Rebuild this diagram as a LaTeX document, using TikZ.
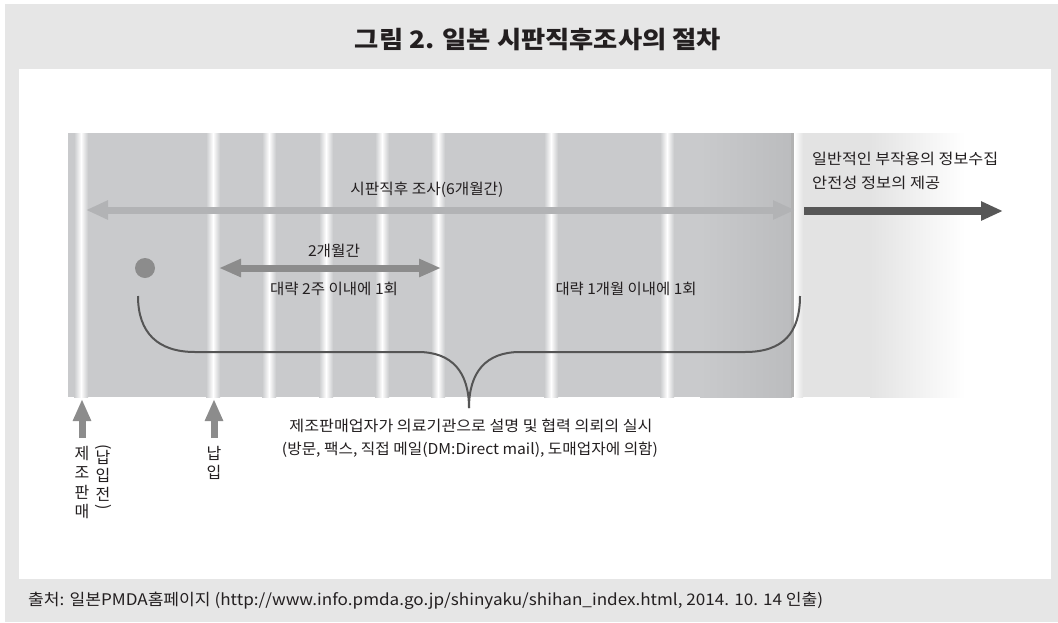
\documentclass[tikz,border=0pt]{standalone}
\usepackage{fontspec}
\setmainfont{Noto Sans CJK KR}
\usepackage{graphicx}
\usetikzlibrary{arrows.meta}
\definecolor{framec}{HTML}{E6E6E6}
\definecolor{bandc}{HTML}{C9CACC}
\definecolor{banddark}{HTML}{BBBCBE}
\definecolor{bandright}{HTML}{E3E3E3}
\definecolor{lightarr}{HTML}{B2B3B5}
\definecolor{midarr}{HTML}{8C8C8C}
\definecolor{darkarr}{HTML}{575757}
\definecolor{bracec}{HTML}{555555}
\definecolor{txtc}{HTML}{231F20}
\newcommand\fitw[2]{\resizebox{#1pt}{\height}{#2}}
\newcommand\vparen[1]{\rotatebox[origin=c]{-90}{#1}}
\begin{document}
\begin{tikzpicture}[x=1pt,y=-1pt,
  lbl/.style={inner sep=0pt, text=txtc, font=\fontsize{15}{18}\selectfont},
  vlbl/.style={inner sep=0pt, text=txtc, align=center, font=\fontsize{16}{19.5}\selectfont},
  lightline/.style={draw=lightarr, line width=7pt, {Triangle[length=22pt,width=18pt]}-{Triangle[length=22pt,width=18pt]}},
  midline/.style={draw=midarr, line width=7pt, {Triangle[length=22pt,width=17pt]}-{Triangle[length=22pt,width=17pt]}},
  darkline/.style={draw=darkarr, line width=8pt, -{Triangle[length=22pt,width=18pt]}},
  upline/.style={draw=midarr, line width=7pt, -{Triangle[length=22pt,width=17pt]}},
  bracestyle/.style={draw=bracec, line width=2pt}]
\useasboundingbox (0,0) rectangle (1058,622);
% frame
\fill[framec] (5,4) rectangle (1058,622);
\fill[white] (19,69) rectangle (1051,579);
% timeline band
\fill[bandc] (68,133) rectangle (700,397);
\shade[left color=bandc, right color=banddark] (700,133) rectangle (792,397);
\fill[black!30] (791,133) rectangle (794,397);
\shade[left color=white, right color=bandright] (794,133) rectangle (803,397);
\fill[bandright] (803,133) rectangle (870,397);
\shade[left color=bandright, right color=white] (870,133) rectangle (965,397);
\foreach \sx in {81,213,269,326,382,438,551,667} {
  \shade[left color=bandc, right color=bandc, middle color=white] (\sx-7,133) rectangle (\sx+7,397);
}
% title
\node[inner sep=0pt, text=txtc, font=\fontsize{24}{28}\selectfont\bfseries] (title) at (538,40) {\fitw{366}{그림 2. 일본 시판직후조사의 절차}};
% long arrow
\coordinate (la) at (86,210);
\coordinate (lb) at (795,210);
\draw[lightline] (la) -- (lb);
\node[lbl] (t6) at (427,190) {\fitw{153}{시판직후 조사(6개월간)}};
% dark arrow
\coordinate (da) at (804,211);
\coordinate (db) at (1003,211);
\draw[darkline] (da) -- (db);
\node[lbl, anchor=west] (g1) at (812,159) {\fitw{186}{일반적인 부작용의 정보수집}};
\node[lbl, anchor=west] (g2) at (812,183) {\fitw{128}{안전성 정보의 제공}};
% dot
\node[circle, fill=midarr, minimum size=20pt, inner sep=0pt] (dot) at (145,268) {};
% two month arrow
\coordinate (ma) at (219,268);
\coordinate (mb) at (441,268);
\draw[midline] (ma) -- (mb);
\node[lbl] (m1) at (334,251) {\fitw{52}{2개월간}};
\node[lbl] (m2) at (334,289) {\fitw{128}{대략 2주 이내에 1회}};
\node[lbl] (m3) at (626,289) {\fitw{141}{대략 1개월 이내에 1회}};
% brace
\coordinate (bl) at (138,296);
\coordinate (bt) at (469,408);
\coordinate (br) at (800,296);
\draw[bracestyle] (bl) .. controls (138,333) and (158,352) .. (195,352) -- (418,352) .. controls (452,352) and (469,372) .. (bt);
\draw[bracestyle] (bt) .. controls (469,372) and (486,352) .. (520,352) -- (745,352) .. controls (783,352) and (800,333) .. (br);
% bottom text
\node[lbl] (c1) at (471,426) {\fitw{363}{제조판매업자가 의료기관으로 설명 및 협력 의뢰의 실시}};
\node[lbl] (c2) at (470,450) {\fitw{376}{(방문, 팩스, 직접 메일(DM:Direct mail), 도매업자에 의함)}};
% up arrows
\coordinate (ua1) at (82,438);
\coordinate (ub1) at (82,399);
\coordinate (ua2) at (214,438);
\coordinate (ub2) at (214,399);
\draw[upline] (ua1) -- (ub1);
\draw[upline] (ua2) -- (ub2);
% vertical labels
\node[vlbl, anchor=north] (v1) at (82,446) {제\\조\\판\\매};
\node[vlbl, anchor=north] (v2) at (103,444) {\vparen{(}\\[-8pt]납\\[-1pt]입\\[-1pt]전\\[-8pt]\vparen{)}};
\node[vlbl, anchor=north] (v3) at (214,446) {납\\입};
% footer
\node[inner sep=0pt, text=txtc, font=\fontsize{16}{19}\selectfont, anchor=west] (src) at (28,601) {\fitw{795}{출처: 일본PMDA홈페이지 (http://www.info.pmda.go.jp/shinyaku/shihan\_index.html, 2014. 10. 14 인출)}};
\end{tikzpicture}
\end{document}
